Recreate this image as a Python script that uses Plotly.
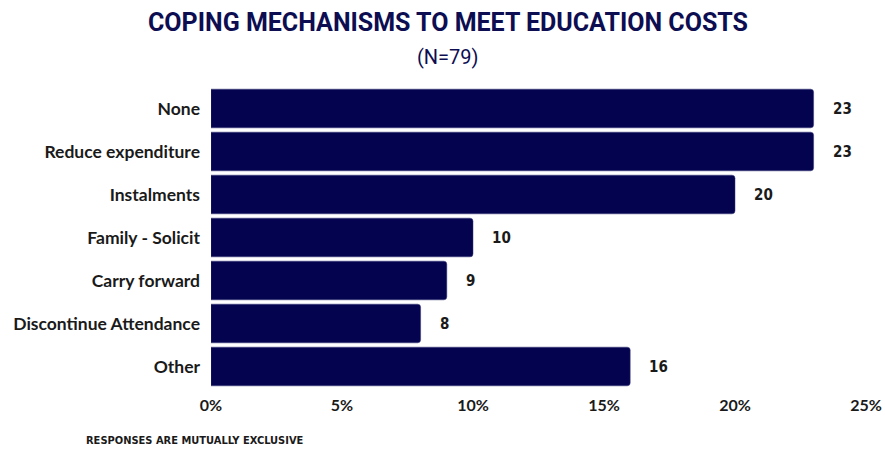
import plotly.graph_objects as go

categories = ["None", "Reduce expenditure", "Instalments", "Family - Solicit",
              "Carry forward", "Discontinue Attendance", "Other"]
values = [23, 23, 20, 10, 9, 8, 16]
tick_vals = [0, 5, 10, 15, 20, 25]
tick_text = ["<b>0%</b>", "<b>5%</b>", "<b>10%</b>", "<b>15%</b>", "<b>20%</b>", "<b>25%</b>"]

navy = "#03034f"
cond = "DejaVu Sans Condensed, Liberation Sans Narrow, Arial Narrow, Lato, sans-serif"
main = "Lato, Roboto, sans-serif"

fig = go.Figure(go.Bar(
    x=values, y=categories, orientation="h",
    marker=dict(color=navy, line=dict(color="#3a3a7a", width=0.5), cornerradius=3),
    width=0.9, hoverinfo="skip",
))

for c, v in zip(categories, values):
    fig.add_annotation(x=v, y=c, text=f"<b>{v}</b>", showarrow=False,
                       xanchor="left", xshift=17,
                       font=dict(family=cond, size=15, color="#1a1a1a"))

fig.add_annotation(text="<b>COPING MECHANISMS TO MEET EDUCATION COSTS</b>",
                   xref="paper", yref="paper", x=0.362, y=1.0, yshift=65,
                   xanchor="center", yanchor="middle", showarrow=False,
                   font=dict(family="Roboto, Liberation Sans, sans-serif", size=25, color="#0d0d52"))
fig.add_annotation(text="(N=79)", xref="paper", yref="paper", x=0.362, y=1.0, yshift=30,
                   xanchor="center", yanchor="middle", showarrow=False,
                   font=dict(family="Roboto, Liberation Sans, sans-serif", size=20, color="#0d0d52"))
fig.add_annotation(text="<b>RESPONSES ARE MUTUALLY EXCLUSIVE</b>", xref="paper", yref="paper",
                   x=0, y=0, xshift=-127, yshift=-52, xanchor="left", yanchor="middle",
                   showarrow=False,
                   font=dict(family=cond, size=11, color="#1a1a1a"))

fig.update_layout(
    width=885, height=450,
    margin=dict(l=211, r=19, t=87, b=62),
    paper_bgcolor="white", plot_bgcolor="white",
    showlegend=False,
    bargap=0.1,
    xaxis=dict(range=[0, 25], tickvals=tick_vals, ticktext=tick_text,
               showgrid=False, zeroline=False, showline=False, ticks="",
               automargin=False,
               tickfont=dict(family=main, size=16, color="#1a1a1a"),
               ticklabelstandoff=6),
    yaxis=dict(categoryorder="array", categoryarray=categories[::-1],
               tickvals=categories, ticktext=[f"<b>{c}</b>" for c in categories],
               showgrid=False, zeroline=False, showline=False, ticks="",
               automargin=False,
               ticklabelstandoff=10,
               tickfont=dict(family=main, size=17.5, color="#1a1a1a")),
)

fig.write_html("out.html", config={"displayModeBar": False},
               post_script="document.body.style.margin='0';")
